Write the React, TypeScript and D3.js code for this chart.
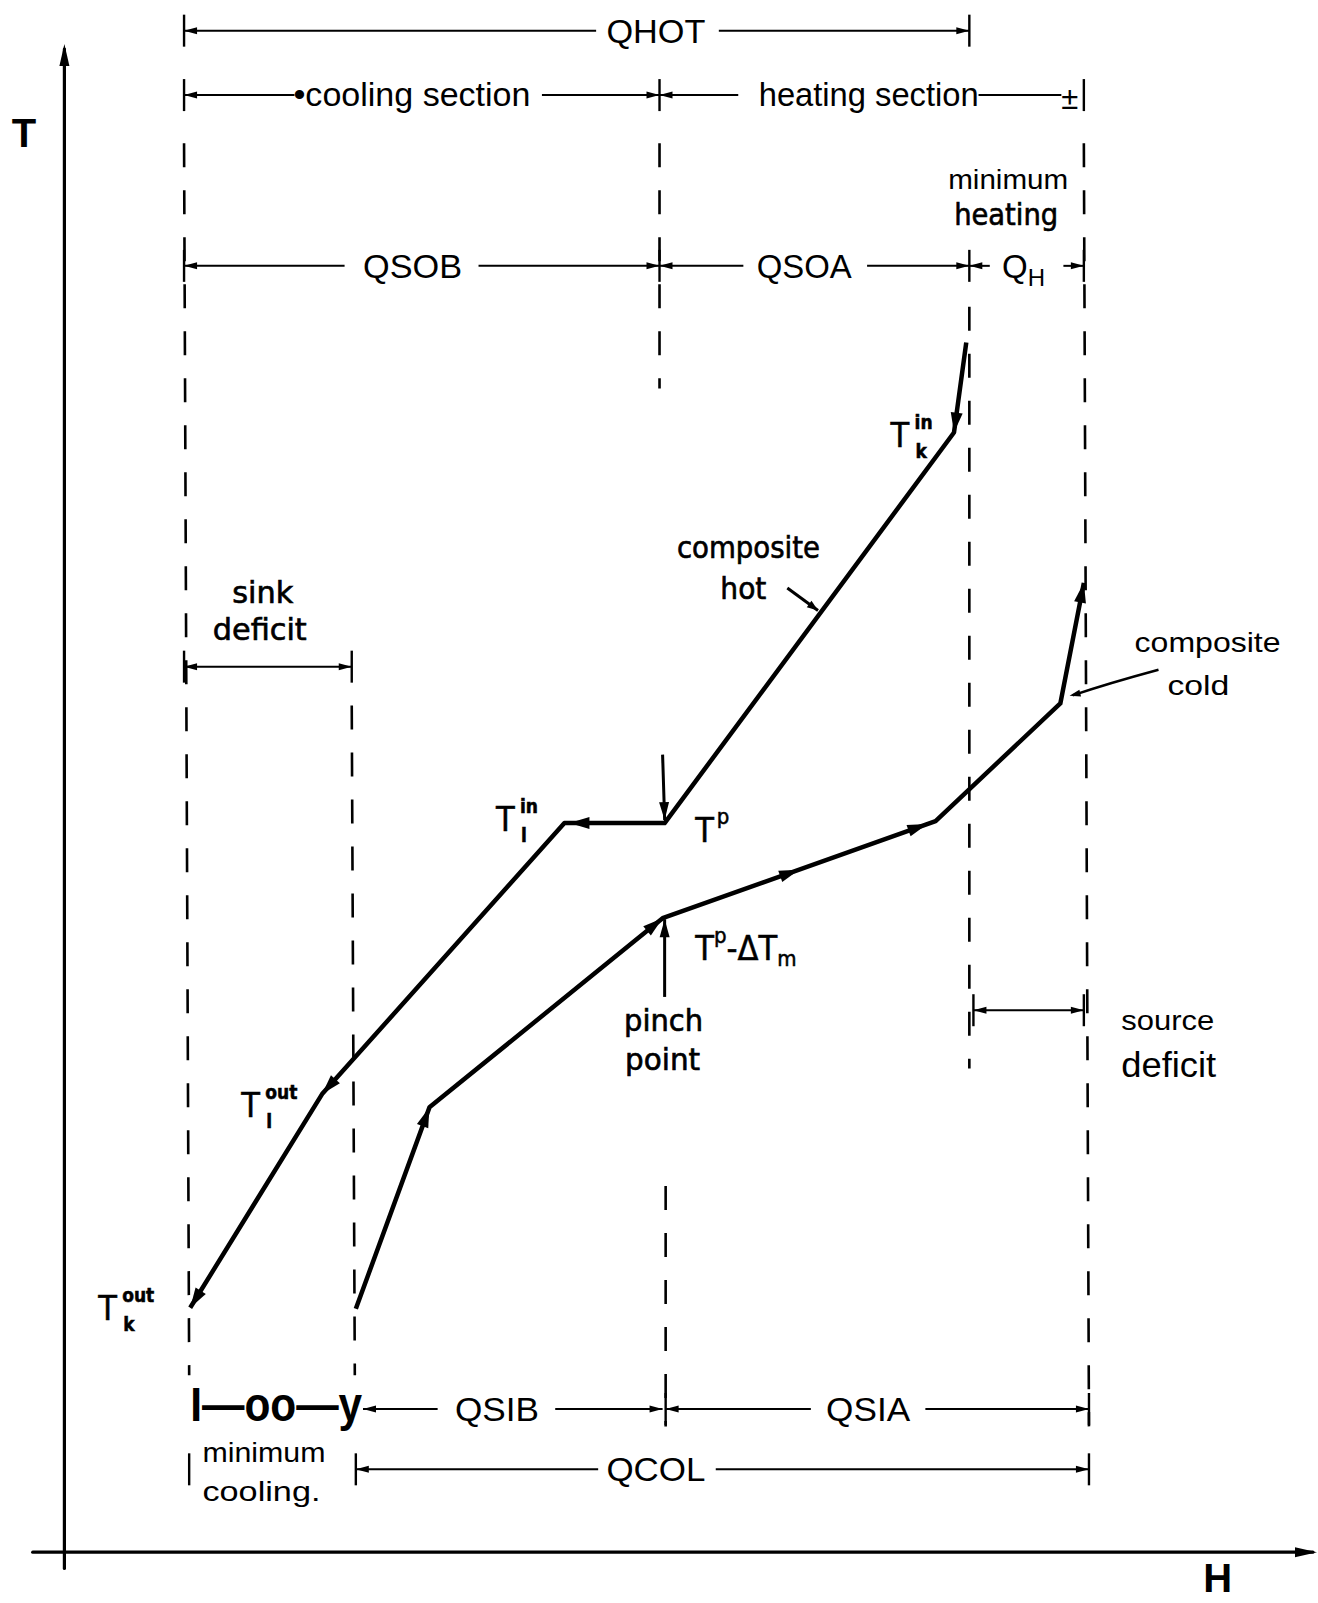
import React from "react";
import * as d3 from "d3";

const WIDTH = 1318;
const HEIGHT = 1603;

// Composite curves (enthalpy H, temperature T in diagram units)
const hotH = [883, 871, 588, 490, 253, 124];
const hotT = [1181, 1093, 711, 711, 446, 237];
const coldH = [286, 358, 586, 853, 975, 998];
const coldT = [236, 433, 618, 713, 828, 946];

// arrowheads on curves: segment index and fraction along segment
const hotArrowSeg = [0, 2, 3, 4];
const hotArrowPos = [1, 0.95, 1, 1];
const coldArrowSeg = [0, 1, 2, 2, 4];
const coldArrowPos = [1, 1, 0.5, 0.97, 1];

// dashed section boundaries
const dashH1 = [118, 282, 583, 589, 886, 998];
const dashH2 = [123, 285, 583, 589, 886, 1003];
const dashT1 = [1376, 826, 1376, 356, 1216, 1376];
const dashT2 = [171, 171, 1136, 121, 471, 121];

// dimension rows
const dimT = [1486, 1423, 1423, 1256, 1256, 1256, 864, 528, 138, 138, 79];
const dimH1 = [118, 118, 583, 118, 583, 886, 118, 890, 293, 589, 286];
const dimH2 = [886, 583, 976, 583, 886, 998, 282, 998, 586, 1003, 1003];
const dimGap1 = [521, 226, 660, 275, 665, 906, -1, -1, 366, 731, 523];
const dimGap2 = [641, 468, 895, 406, 786, 978, -1, -1, 481, 843, 638];
const dimArrowR = [1, 1, 0, 1, 1, 1, 1, 1, 1, 1, 1];

// ticks at dimension ends
const tickH = [118, 886, 118, 583, 998, 118, 583, 886, 998, 118, 282, 890, 998, 589, 1003, 123, 286, 1003];
const tickT = [1486, 1486, 1423, 1423, 1423, 1256, 1256, 1256, 1256, 864, 864, 528, 528, 138, 138, 79, 79, 79];

// row labels (centered on rows)
const rowLabels = ["QHOT", "QSOB", "QSOA", "QSIB", "QSIA", "QCOL"];
const rowLabelH = [579.5, 341.5, 724.5, 424, 787, 579.5];
const rowLabelT = [1486, 1256, 1256, 138, 138, 79];
const rowLabelLen = [99, 99, 95, 84, 84, 99];

// plain sans labels
const sansLabels = ["minimum", "composite", "cold", "source", "deficit", "minimum", "cooling."];
const sansLabelH = [924, 1119, 1110, 1080, 1081, 136, 136];
const sansLabelT = [1331, 878, 836, 509, 463, 86, 48];
const sansLabelAnchor = ["middle", "middle", "middle", "middle", "middle", "start", "start"];
const sansLabelSize = [27, 28, 28, 27, 35, 28, 28];
const sansLabelLen = [120, 146, 62, 93, 95, 123, 118];

// lettering-style labels
const letterLabels = ["heating", "sink", "deficit", "composite", "hot", "pinch", "point"];
const letterLabelH = [922, 195, 192, 670, 665, 587, 586];
const letterLabelT = [1296, 926, 890, 970, 930, 508, 470];
const letterLabelLen = [104, 61, 94, 143, 46, 79, 75];

// temperature symbols T with superscript / subscript
const tSup = ["in", "in", "out", "out"];
const tSub = ["k", "l", "l", "k"];
const tSymH = [809, 423, 174, 34];
const tSymT = [1079, 703, 424, 225];

const SANS = "'Liberation Sans Narrow', 'Liberation Sans', Arial, sans-serif";
const LETTER = "'DejaVu Sans Condensed', 'DejaVu Sans', sans-serif";

function arrowPath(tx: number, ty: number, dx: number, dy: number, L: number, w: number) {
  const len = Math.hypot(dx, dy);
  const ux = dx / len, uy = dy / len;
  const bx = tx - ux * L, by = ty - uy * L;
  const px = -uy, py = ux;
  return `M${tx},${ty}L${bx + px * w},${by + py * w}L${bx - px * w},${by - py * w}Z`;
}

export default function App() {
  const x = d3.scaleLinear().domain([0, 1000]).range([63.4, 63.4 + 1022.5]);
  const y = d3.scaleLinear().domain([0, 1000]).range([1550.1, 1550.1 - 1022.5]);
  const line = d3.line<[number, number]>().x((d) => x(d[0])).y((d) => y(d[1]));

  const hotPts: [number, number][] = hotH.map((h, i) => [h, hotT[i]]);
  const coldPts: [number, number][] = coldH.map((h, i) => [h, coldT[i]]);

  const curveArrow = (pts: [number, number][], seg: number, t: number, key: string) => {
    const a = pts[seg], b = pts[seg + 1];
    const x1 = x(a[0]), y1 = y(a[1]), x2 = x(b[0]), y2 = y(b[1]);
    const tx = x1 + (x2 - x1) * t, ty = y1 + (y2 - y1) * t;
    return <path key={key} d={arrowPath(tx, ty, x2 - x1, y2 - y1, 20, 6)} fill="#000" />;
  };

  const pointerArrow = (h1: number, t1: number, h2: number, t2: number, L: number, w: number, key: string, sw = 3) => (
    <g key={key}>
      <line x1={x(h1)} y1={y(t1)} x2={x(h2)} y2={y(t2)} stroke="#000" strokeWidth={sw} />
      <path d={arrowPath(x(h2), y(t2), x(h2) - x(h1), y(t2) - y(t1), L, w)} fill="#000" />
    </g>
  );

  return (
    <svg
      width={WIDTH}
      height={HEIGHT}
      viewBox={`0 0 ${WIDTH} ${HEIGHT}`}
      style={{ position: "absolute", left: 0, top: 0, background: "#fff" }}
    >
      <rect x={0} y={0} width={WIDTH} height={HEIGHT} fill="#fff" />

      {/* axes */}
      <line x1={x(0) + 1} y1={y(-18)} x2={x(0) + 1} y2={y(1468)} stroke="#000" strokeWidth={3.2} strokeLinecap="round" />
      <path d={arrowPath(x(0) + 1, y(1473), 0, -1, 22, 5)} fill="#000" />
      <line x1={x(-30)} y1={y(-2)} x2={x(1222)} y2={y(-2)} stroke="#000" strokeWidth={3.2} strokeLinecap="round" />
      <path d={arrowPath(x(1226), y(-2), 1, 0, 22, 5)} fill="#000" />
      <text x={x(-38.5)} y={y(1372)} fontFamily="'Liberation Sans', Arial, sans-serif" fontWeight="bold" fontSize={40} textAnchor="middle">T</text>
      <text x={x(1129)} y={y(-41)} fontFamily="'Liberation Sans', Arial, sans-serif" fontWeight="bold" fontSize={40} textAnchor="middle">H</text>

      {/* dashed boundaries */}
      {dashH1.map((h, i) => (
        <line
          key={`d${i}`}
          x1={x(h)}
          y1={y(dashT1[i])}
          x2={x(dashH2[i])}
          y2={y(dashT2[i])}
          stroke="#000"
          strokeWidth={2.6}
          strokeDasharray="24 23"
        />
      ))}

      {/* ticks */}
      {tickH.map((h, i) => (
        <line key={`t${i}`} x1={x(h)} y1={y(tickT[i]) - 16} x2={x(h)} y2={y(tickT[i]) + 16} stroke="#000" strokeWidth={2.4} />
      ))}

      {/* dimension rows */}
      {dimT.map((t, i) => {
        const yy = y(t);
        const segs: [number, number][] =
          dimGap1[i] < 0 ? [[dimH1[i], dimH2[i]]] : [[dimH1[i], dimGap1[i]], [dimGap2[i], dimH2[i]]];
        return (
          <g key={`r${i}`}>
            {segs.map((s, j) => (
              <line key={j} x1={x(s[0])} y1={yy} x2={x(s[1])} y2={yy} stroke="#000" strokeWidth={2} />
            ))}
            <path d={arrowPath(x(dimH1[i]), yy, -1, 0, 13, 3.5)} fill="#000" />
            {dimArrowR[i] ? <path d={arrowPath(x(dimH2[i]), yy, 1, 0, 13, 3.5)} fill="#000" /> : null}
          </g>
        );
      })}

      {/* row labels */}
      {rowLabels.map((s, i) => (
        <text
          key={`rl${i}`}
          x={x(rowLabelH[i])}
          y={y(rowLabelT[i]) + 12}
          fontFamily={SANS}
          fontSize={33}
          textAnchor="middle"
          textLength={rowLabelLen[i]}
          lengthAdjust="spacingAndGlyphs"
        >
          {s}
        </text>
      ))}
      <text x={x(225)} y={y(1423) + 11} fontFamily={SANS} fontSize={33} textLength={237} lengthAdjust="spacingAndGlyphs">
        •cooling  section
      </text>
      <text x={x(680)} y={y(1423) + 11} fontFamily={SANS} fontSize={33} textLength={220} lengthAdjust="spacingAndGlyphs">
        heating  section
      </text>
      <text x={x(976)} y={y(1423) + 14} fontFamily="'Liberation Sans', Arial, sans-serif" fontSize={31}>±</text>
      <text x={x(918)} y={y(1256) + 12} fontFamily={SANS} fontSize={33}>
        Q<tspan fontSize={24} dy={8}>H</tspan>
      </text>

      {/* I—oo—y */}
      <text
        x={x(124)}
        y={y(126)}
        fontFamily="'Liberation Sans', Arial, sans-serif"
        fontWeight="bold"
        fontSize={48}
        textLength={172}
        lengthAdjust="spacingAndGlyphs"
      >
        I—oo—y
      </text>

      {/* sans labels */}
      {sansLabels.map((s, i) => (
        <text
          key={`sl${i}`}
          x={x(sansLabelH[i])}
          y={y(sansLabelT[i])}
          fontFamily={SANS}
          fontSize={sansLabelSize[i]}
          textAnchor={sansLabelAnchor[i] as any}
          textLength={sansLabelLen[i]}
          lengthAdjust="spacingAndGlyphs"
        >
          {s}
        </text>
      ))}

      {/* lettering labels */}
      {letterLabels.map((s, i) => (
        <text
          key={`ll${i}`}
          x={x(letterLabelH[i])}
          y={y(letterLabelT[i])}
          fontFamily={LETTER}
          fontSize={30}
          textAnchor="middle"
          textLength={letterLabelLen[i]}
          lengthAdjust="spacingAndGlyphs"
          stroke="#000"
          strokeWidth={0.6}
        >
          {s}
        </text>
      ))}

      {/* T symbols */}
      {tSup.map((s, i) => (
        <g key={`ts${i}`} fontFamily={LETTER} stroke="#000" strokeWidth={0.5}>
          <text x={x(tSymH[i])} y={y(tSymT[i])} fontSize={34}>T</text>
          <text x={x(tSymH[i]) + 24} y={y(tSymT[i]) - 18} fontSize={19} fontWeight="bold">{s}</text>
          <text x={x(tSymH[i]) + 25} y={y(tSymT[i]) + 11} fontSize={19} fontWeight="bold">{tSub[i]}</text>
        </g>
      ))}
      <g fontFamily={LETTER} stroke="#000" strokeWidth={0.5}>
        <text x={x(618)} y={y(693)} fontSize={34}>T</text>
        <text x={x(639)} y={y(710)} fontSize={22}>p</text>
        <text x={x(618)} y={y(577)} fontSize={34}>
          T<tspan fontSize={22} dy={-17}>p</tspan>
          <tspan dy={17}>-ΔT</tspan>
          <tspan fontSize={22} dy={6}>m</tspan>
        </text>
      </g>

      {/* composite curves */}
      <path d={line(hotPts) ?? ""} fill="none" stroke="#000" strokeWidth={4.5} strokeLinejoin="round" />
      <path d={line(coldPts) ?? ""} fill="none" stroke="#000" strokeWidth={4.5} strokeLinejoin="round" />
      {hotArrowSeg.map((s, i) => curveArrow(hotPts, s, hotArrowPos[i], `ha${i}`))}
      {coldArrowSeg.map((s, i) => curveArrow(coldPts, s, coldArrowPos[i], `ca${i}`))}

      {/* pinch arrows */}
      {pointerArrow(586, 778, 588, 714, 18, 5, "pd", 3)}
      {pointerArrow(588, 541, 588, 617, 18, 5, "pu", 3)}

      {/* composite hot pointer */}
      {pointerArrow(708, 941, 738, 919, 11, 4, "hp", 3)}

      {/* composite cold pointer */}
      <path
        d={`M${x(1071)},${y(861)} Q${x(1023)},${y(848)} ${x(987)},${y(836)}`}
        fill="none"
        stroke="#000"
        strokeWidth={2.4}
      />
      <path d={arrowPath(x(984), y(835.5), -1, 0.25, 11, 3.5)} fill="#000" />
    </svg>
  );
}
